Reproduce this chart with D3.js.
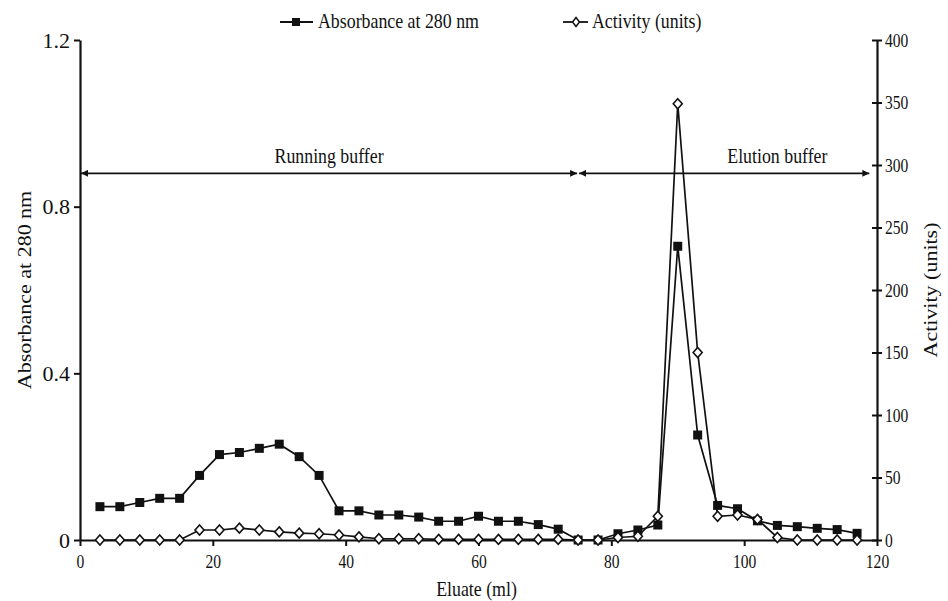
<!DOCTYPE html>
<html>
<head>
<meta charset="utf-8">
<script src="https://cdn.jsdelivr.net/npm/d3@7"></script>
<style>
  body { margin: 0; background: #fff; }
  text { font-family: "Liberation Serif", "Times New Roman", serif; fill: #111; }
</style>
</head>
<body>
<svg width="948" height="601"></svg>
<script>
// eluate volume (ml) for each fraction
var eluate = [3, 6, 9, 12, 15, 18, 21, 24, 27, 30, 33, 36, 39, 42, 45, 48, 51, 54, 57, 60,
              63, 66, 69, 72, 75, 78, 81, 84, 87, 90, 93, 96, 99, 102, 105, 108, 111, 114, 117];
var absorbance = [0.08, 0.08, 0.09, 0.10, 0.10, 0.155, 0.205, 0.21, 0.22, 0.23, 0.20, 0.155, 0.07, 0.07,
                  0.06, 0.06, 0.055, 0.045, 0.045, 0.057, 0.045, 0.045, 0.037, 0.026, 0.0, 0.0, 0.015,
                  0.024, 0.036, 0.705, 0.252, 0.083, 0.075, 0.046, 0.035, 0.032, 0.028, 0.025, 0.016];
var activity = [0, 0, 0, 0, 0, 8, 8, 9.5, 8, 6.5, 5.5, 5, 4, 2.5, 1, 1, 1, 0.5, 0.5, 0.5,
                0.5, 0.5, 0.5, 0.5, 0, 0, 2, 3, 19, 349, 150, 19, 20, 16.5, 2, 0, 0, 0, 0];

var xTicks = [0, 20, 40, 60, 80, 100, 120];
var leftTicks = [0, 0.4, 0.8, 1.2];
var rightTicks = [0, 50, 100, 150, 200, 250, 300, 350, 400];

// buffer regions
var bufferNames = ["Running buffer", "Elution buffer"];
var bufferStart = [0, 75];
var bufferEnd = [75, 119];
var bufferLabelAt = [37.5, 105];
var bufferLevel = 0.88;

var svg = d3.select("svg");
var margin = {top: 40, right: 71, bottom: 61, left: 80};
var width = +svg.attr("width") - margin.left - margin.right;
var height = +svg.attr("height") - margin.top - margin.bottom;

var x = d3.scaleLinear().domain([0, 120]).range([0, width]);
var yL = d3.scaleLinear().domain([0, 1.2]).range([height, 0]);
var yR = d3.scaleLinear().domain([0, 400]).range([height, 0]);

// the original figure's lettering is a bit narrow, squeeze it sideways
function squash(sel, sx) {
  sel.each(function() {
    var t = d3.select(this);
    var tx = +t.attr("x") || 0;
    t.attr("x", tx / sx).attr("transform", "scale(" + sx + ",1)");
  });
}

var g = svg.append("g")
    .attr("transform", "translate(" + margin.left + "," + margin.top + ")");

var defs = svg.append("defs");
defs.append("marker")
    .attr("id", "arr")
    .attr("viewBox", "0 0 10 10")
    .attr("refX", 10).attr("refY", 5)
    .attr("markerWidth", 7).attr("markerHeight", 7)
    .attr("markerUnits", "userSpaceOnUse")
    .attr("orient", "auto-start-reverse")
    .append("path").attr("d", "M0,0L10,5L0,10Z").attr("fill", "#111");

// axes
var xAxis = g.append("g")
    .attr("transform", "translate(0," + height + ")")
    .call(d3.axisBottom(x).tickValues(xTicks).tickSizeInner(6).tickSizeOuter(0).tickPadding(9));
xAxis.selectAll("text").style("font-size", "19px").call(squash, 0.82);

var lAxis = g.append("g")
    .call(d3.axisLeft(yL).tickValues(leftTicks).tickSizeInner(6).tickSizeOuter(0).tickPadding(4)
      .tickFormat(function(d) { return d === 0 ? "0" : d3.format(".1f")(d); }));
lAxis.selectAll("text").style("font-size", "22px");

var rAxis = g.append("g")
    .attr("transform", "translate(" + width + ",0)")
    .call(d3.axisRight(yR).tickValues(rightTicks).tickSizeInner(5).tickSizeOuter(0).tickPadding(3));
rAxis.selectAll(".tick line").attr("x1", -5);
rAxis.selectAll("text").style("font-size", "19px").call(squash, 0.82);

g.selectAll(".domain").attr("stroke", "#111").attr("stroke-width", 2.2);
g.selectAll(".tick line").attr("stroke", "#111").attr("stroke-width", 2);

// axis titles
svg.append("text")
    .attr("transform", "translate(31," + (margin.top + height / 2) + ") rotate(-90) scale(1,0.85)")
    .attr("text-anchor", "middle")
    .style("font-size", "22px")
    .text("Absorbance at 280 nm");

svg.append("text")
    .attr("transform", "translate(937," + (margin.top + height / 2) + ") rotate(-90) scale(1,0.85)")
    .attr("text-anchor", "middle")
    .style("font-size", "22px")
    .text("Activity (units)");

svg.append("text")
    .attr("x", margin.left + width / 2 - 2)
    .attr("y", 596)
    .attr("text-anchor", "middle")
    .style("font-size", "21px")
    .text("Eluate (ml)")
    .call(squash, 0.85);

// buffer arrows
bufferNames.forEach(function(name, i) {
  g.append("line")
    .attr("x1", x(bufferStart[i]) + 1).attr("x2", x(bufferEnd[i]) - 1)
    .attr("y1", yL(bufferLevel)).attr("y2", yL(bufferLevel))
    .attr("stroke", "#111").attr("stroke-width", 1.6)
    .attr("marker-start", "url(#arr)").attr("marker-end", "url(#arr)");
  g.append("text")
    .attr("x", x(bufferLabelAt[i]))
    .attr("y", yL(bufferLevel) - 10)
    .attr("text-anchor", "middle")
    .style("font-size", "21px")
    .text(name)
    .call(squash, 0.85);
});

// series
var absData = eluate.map(function(v, i) { return {x: v, y: absorbance[i]}; });
var actData = eluate.map(function(v, i) { return {x: v, y: activity[i]}; });

var absLine = d3.line().x(function(d) { return x(d.x); }).y(function(d) { return yL(d.y); });
var actLine = d3.line().x(function(d) { return x(d.x); }).y(function(d) { return yR(d.y); });

g.append("path").datum(absData)
    .attr("d", absLine).attr("fill", "none").attr("stroke", "#111").attr("stroke-width", 1.7);

g.selectAll(".sq").data(absData).enter().append("rect")
    .attr("class", "sq")
    .attr("x", function(d) { return x(d.x) - 4.5; })
    .attr("y", function(d) { return yL(d.y) - 4.5; })
    .attr("width", 9).attr("height", 9)
    .attr("fill", "#111");

g.append("path").datum(actData)
    .attr("d", actLine).attr("fill", "none").attr("stroke", "#111").attr("stroke-width", 1.7);

var diamond = "M0,-5L4.5,0L0,5L-4.5,0Z";
g.selectAll(".dm").data(actData).enter().append("path")
    .attr("class", "dm")
    .attr("transform", function(d) { return "translate(" + x(d.x) + "," + yR(d.y) + ")"; })
    .attr("d", diamond)
    .attr("fill", "#fff").attr("stroke", "#111").attr("stroke-width", 1.6);

// legend
var legend = svg.append("g").attr("transform", "translate(0,22)");
legend.append("line").attr("x1", 280).attr("x2", 313).attr("y1", 0).attr("y2", 0)
    .attr("stroke", "#111").attr("stroke-width", 1.8);
legend.append("rect").attr("x", 292).attr("y", -4).attr("width", 8).attr("height", 8).attr("fill", "#111");
legend.append("text").attr("x", 318).attr("y", 6).style("font-size", "21px")
    .text("Absorbance at 280 nm").call(squash, 0.85);

legend.append("line").attr("x1", 563).attr("x2", 588).attr("y1", 0).attr("y2", 0)
    .attr("stroke", "#111").attr("stroke-width", 1.8);
legend.append("path").attr("transform", "translate(576,0)").attr("d", "M0,-4.5L3.5,0L0,4.5L-3.5,0Z")
    .attr("fill", "#fff").attr("stroke", "#111").attr("stroke-width", 1.5);
legend.append("text").attr("x", 592).attr("y", 6).style("font-size", "21px")
    .text("Activity (units)").call(squash, 0.85);
</script>
</body>
</html>
